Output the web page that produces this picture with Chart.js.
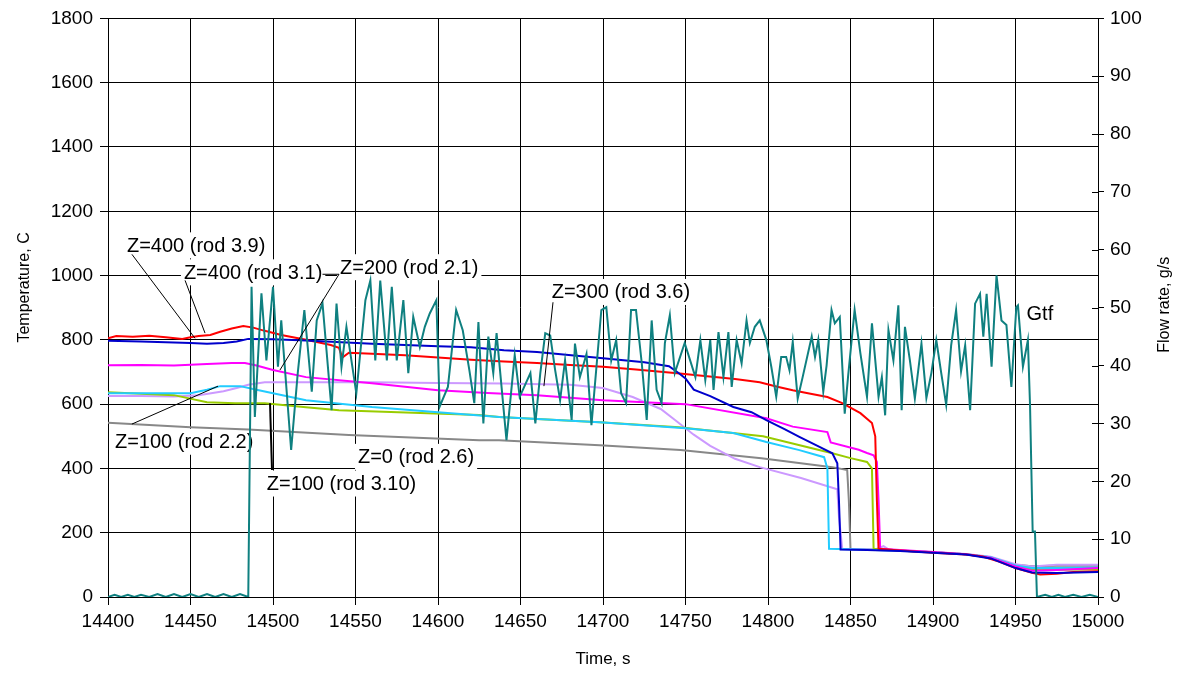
<!DOCTYPE html>
<html>
<head>
<meta charset="utf-8">
<title>Temperature and flow rate</title>
<script src="https://cdn.jsdelivr.net/npm/chart.js@4.4.1/dist/chart.umd.min.js"></script>
<style>
  html, body { margin: 0; padding: 0; background: #fff; }
  #wrap { width: 1185px; height: 675px; }
</style>
</head>
<body>
<div id="wrap"><canvas id="flowChart" width="1185" height="675"></canvas></div>
<script>
// ===== Data =====

// Z=400 (rod 3.1) - red
const timeRed = [
  14400, 14405, 14415, 14425, 14435, 14445, 14450, 14455, 14462, 14468,
  14475, 14482, 14488, 14495, 14505, 14520, 14535, 14540, 14542, 14546,
  14560, 14580, 14600, 14620, 14640, 14660, 14680, 14700, 14720, 14745,
  14760, 14780, 14795, 14805, 14815, 14825, 14836, 14845, 14856, 14863,
  14865, 14866, 14867, 14880, 14900, 14920, 14930, 14940, 14950, 14960,
  14965, 14975, 14985, 15000
];
const tempRed = [
  805, 812, 810, 813, 808, 803, 808, 812, 815, 825,
  835, 843, 838, 828, 815, 800, 784, 775, 745, 760,
  757, 752, 745, 738, 733, 728, 722, 716, 708, 696,
  688, 678, 668, 655, 643, 633, 622, 603, 572, 541,
  500, 300, 150, 145, 138, 132, 126, 110, 90, 75,
  70, 72, 78, 80
];

// Z=400 (rod 3.9) - blue
const timeBlue = [
  14400, 14420, 14440, 14450, 14460, 14470, 14478, 14485, 14500, 14520,
  14560, 14600, 14620, 14640, 14660, 14700, 14725, 14740, 14746, 14750,
  14755, 14765, 14779, 14790, 14799, 14810, 14819, 14830, 14839, 14842,
  14843, 14844, 14860, 14880, 14900, 14920, 14935, 14950, 14960, 14975,
  15000
];
const tempBlue = [
  797, 795, 792, 790, 788, 790, 795, 803, 802, 798,
  788, 780, 777, 768, 762, 743, 730, 718, 696, 680,
  645, 625, 591, 575, 550, 522, 498, 470, 447, 416,
  300, 148, 146, 143, 138, 132, 120, 90, 76, 75,
  78
];

// Z=200 (rod 2.1) - magenta
const timeMagenta = [
  14400, 14420, 14440, 14460, 14475, 14483, 14490, 14500, 14520, 14560,
  14600, 14630, 14660, 14700, 14750, 14799, 14815, 14836, 14838, 14855,
  14860, 14864, 14866, 14867, 14868, 14880, 14900, 14920, 14935, 14950,
  14960, 14975, 15000
];
const tempMagenta = [
  721, 722, 720, 725, 728, 728, 720, 706, 684, 665,
  643, 635, 628, 612, 600, 556, 530, 513, 481, 458,
  448, 441, 420, 300, 150, 146, 140, 133, 122, 95,
  82, 84, 90
];

// Z=300 (rod 3.6) - lavender
const timeLavender = [
  14400, 14420, 14440, 14455, 14470, 14478, 14485, 14495, 14520, 14560,
  14600, 14640, 14680, 14700, 14718, 14735, 14745, 14755, 14765, 14780,
  14795, 14820, 14842, 14843, 14845, 14865, 14870, 14873, 14880, 14900,
  14920, 14935, 14950, 14960, 14975, 15000
];
const tempLavender = [
  625, 625, 624, 628, 640, 650, 660, 668, 668, 668,
  666, 664, 660, 650, 622, 585, 545, 505, 470, 430,
  404, 370, 335, 250, 150, 148, 158, 148, 145, 140,
  134, 125, 102, 95, 100, 100
];

// Z=100 (rod 2.2) - cyan
const timeCyan = [
  14400, 14450, 14460, 14468, 14480, 14490, 14500, 14520, 14560, 14600,
  14637, 14698, 14750, 14779, 14799, 14819, 14834, 14836, 14837, 14860,
  14880, 14900, 14920, 14935, 14950, 14960, 14975, 15000
];
const tempCyan = [
  634, 634, 645, 656, 656, 645, 634, 612, 591, 575,
  560, 544, 525, 510, 482, 457, 435, 400, 150, 147,
  144, 139, 133, 124, 98, 90, 90, 92
];

// Z=100 (rod 3.10) - yellow-green
const timeGreen = [
  14400, 14440, 14460, 14477, 14495, 14520, 14540, 14625, 14637, 14698,
  14746, 14797, 14839, 14850, 14860, 14863, 14864, 14880, 14900, 14920,
  14935, 14950, 14960, 14975, 15000
];
const tempGreen = [
  637, 628, 606, 603, 603, 590, 581, 566, 560, 544,
  528, 500, 447, 432, 420, 400, 150, 145, 139, 133,
  122, 96, 86, 85, 86
];

// Z=0 (rod 2.6) - gray
const timeGray = [
  14400, 14450, 14485, 14546, 14625, 14637, 14698, 14747, 14796, 14839,
  14848, 14849, 14850, 14880, 14900, 14920, 14935, 14950, 14960, 14975,
  15000
];
const tempGray = [
  542, 528, 521, 504, 488, 488, 472, 457, 432, 404,
  395, 300, 150, 145, 139, 133, 124, 100, 96, 97,
  97
];

// Gtf flow rate (right axis, g/s) - teal
const timeGtf = [
  14400, 14404, 14408, 14412, 14416, 14420, 14425, 14430, 14435, 14440,
  14445, 14450, 14455, 14460, 14465, 14470, 14475, 14480, 14485, 14487,
  14489, 14493, 14496, 14500, 14503, 14505, 14511, 14515, 14519, 14523.5,
  14526.5, 14530, 14535.5, 14538.5, 14541.5, 14544.5, 14550.5, 14556, 14559, 14562,
  14565, 14569, 14572, 14575, 14579, 14582, 14585, 14589, 14592, 14595,
  14599, 14601, 14606, 14611, 14615, 14619, 14622, 14624.5, 14627.5, 14630.5,
  14633.5, 14635.5, 14641.5, 14646.5, 14649.5, 14656, 14659, 14662, 14665, 14668,
  14671, 14674, 14677, 14681, 14683, 14686, 14690, 14693, 14699, 14702,
  14705, 14708, 14711, 14714, 14717, 14720, 14723.5, 14726.5, 14729.5, 14732.5,
  14735.5, 14737.5, 14740.5, 14743.5, 14749.5, 14756, 14759, 14762, 14765, 14767,
  14770, 14773, 14776, 14778, 14781, 14784, 14787, 14789, 14792, 14795,
  14799, 14802, 14805, 14808, 14811, 14813, 14815, 14818, 14821, 14826.5,
  14828.5, 14830.5, 14833.5, 14835.5, 14838.5, 14840.5, 14843.5, 14846.5, 14848.5, 14852.5,
  14856, 14860, 14863, 14867, 14869, 14871, 14873, 14876, 14879, 14881,
  14883, 14886, 14889, 14893, 14896, 14899, 14902, 14905, 14908, 14911,
  14914, 14917, 14919.5, 14922.5, 14925.5, 14928.5, 14930.5, 14932.5, 14935.5, 14938.5,
  14941.5, 14944.5, 14947.5, 14950.5, 14951.5, 14954.5, 14957.5, 14958.8, 14960.4, 14961.8,
  14963, 14968, 14972, 14976, 14980, 14985, 14990, 14995, 15000
];
const flowGtf = [
  0, 0.4, 0, 0.4, 0, 0.4, 0, 0.5, 0, 0.5,
  0, 0.5, 0, 0.5, 0, 0.5, 0, 0.5, 0, 53.6,
  31.1, 52.5, 40.9, 53.6, 39.8, 47.8, 25.4, 38.7, 49.6, 35.5,
  47.8, 50.8, 32.3, 50.7, 39.8, 46.7, 35.2, 51.3, 54.7, 40.9,
  54.7, 40.9, 53.6, 40.9, 51.3, 38.7, 48.4, 43.2, 46.7, 49,
  51.3, 32.9, 36.3, 49.6, 46.1, 39.2, 33.5, 47.5, 30, 45,
  38.7, 45.6, 27.1, 41.8, 34.6, 38.7, 30, 38.7, 45.6, 45.2,
  39.2, 34, 40.9, 30.6, 43.8, 38, 42, 29.7, 49.6, 50.1,
  40.9, 44.4, 35.2, 33.5, 49.6, 49.6, 40.4, 30.6, 47.8, 35.8,
  33.5, 43.9, 48.7, 38.7, 43.9, 38, 44.4, 37.5, 44.4, 35.8,
  45.8, 38, 45.8, 36.3, 44.4, 40.4, 47.8, 43.9, 46.7, 47.8,
  44.4, 39.8, 34.6, 41.5, 41.5, 39.2, 44.1, 34.3, 38, 45,
  41.5, 44.5, 35.5, 40, 49.6, 47.3, 48.4, 31.7, 38, 49.6,
  42.1, 34.6, 47.3, 34.6, 38, 31.4, 46.1, 40.9, 50.4, 32.3,
  46.7, 40.9, 34.3, 43.8, 34.4, 38.7, 44.4, 38.7, 33.2, 43.5,
  49.6, 39, 43.5, 32.3, 50.7, 52.4, 45, 52.4, 39.8, 55.6,
  47.8, 47, 36.3, 50.1, 50.4, 39.8, 44.4, 33.2, 11.3, 11.3,
  0, 0.4, 0, 0.4, 0, 0.4, 0, 0.4, 0
];

// ===== Helpers =====
function toPoints(times, values) {
  return times.map(function (t, i) {
    return { x: t, y: values[i] };
  });
}

const FONT = "'Liberation Sans', Arial, sans-serif";
const tempTitle = "Temperature, C";
const flowTitle = "Flow rate, g/s";

// Callout labels (anchored in data units: time, temperature)
const callouts = [
  { text: "Z=400 (rod 3.9)", t: 14411.5, v: 1094, line: [14414.5, 1066, 14452.7, 805] },
  { text: "Z=400 (rod 3.1)", t: 14446, v: 1010, line: [14446.7, 985, 14458.8, 821] },
  { text: "Z=200 (rod 2.1)", t: 14540.6, v: 1026, line: [14540, 1004, 14504.2, 706], extra: [14530, 1004, 14540, 1004] },
  { text: "Z=300 (rod 3.6)", t: 14668.9, v: 949, line: [14669.7, 917, 14664.2, 656] },
  { text: "Gtf", t: 14956.7, v: 882 },
  { text: "Z=100 (rod 2.2)", t: 14404.2, v: 483, line: [14414.5, 538, 14466.7, 656] },
  { text: "Z=100 (rod 3.10)", t: 14496.2, v: 353, line: [14499.4, 395, 14498.2, 603], width: 2 },
  { text: "Z=0 (rod 2.6)", t: 14551.5, v: 436 }
];

function drawRotated(ctx, text, x, y) {
  ctx.save();
  ctx.translate(x, y);
  ctx.rotate(-Math.PI / 2);
  ctx.fillText(text, 0, 0);
  ctx.restore();
}

// Draw label boxes/text under the data, leader lines over it
const calloutPlugin = {
  id: "callouts",
  beforeDatasetsDraw: function (chart) {
    const ctx = chart.ctx;
    const xs = chart.scales.x;
    const ys = chart.scales.y;
    ctx.save();
    ctx.font = "20px " + FONT;
    ctx.textBaseline = "middle";
    ctx.textAlign = "left";
    callouts.forEach(function (c) {
      const px = xs.getPixelForValue(c.t);
      const py = ys.getPixelForValue(c.v);
      const w = ctx.measureText(c.text).width;
      ctx.fillStyle = "#fff";
      ctx.fillRect(px - 3, py - 13, w + 6, 26);
      ctx.fillStyle = "#000";
      ctx.fillText(c.text, px, py + 1);
    });
    ctx.restore();
  },
  afterDatasetsDraw: function (chart) {
    const ctx = chart.ctx;
    const xs = chart.scales.x;
    const ys = chart.scales.y;
    ctx.save();
    ctx.strokeStyle = "#000";
    callouts.forEach(function (c) {
      [c.line, c.extra].forEach(function (l) {
        if (!l) return;
        ctx.lineWidth = c.width || 1;
        ctx.beginPath();
        ctx.moveTo(xs.getPixelForValue(l[0]), ys.getPixelForValue(l[1]));
        ctx.lineTo(xs.getPixelForValue(l[2]), ys.getPixelForValue(l[3]));
        ctx.stroke();
      });
    });
    ctx.restore();
  },
  afterDraw: function (chart) {
    const ctx = chart.ctx;
    const y1 = chart.scales.y1;
    const area = chart.chartArea;
    ctx.save();
    // right axis tick marks cross the axis line
    ctx.strokeStyle = "#000";
    ctx.lineWidth = 1;
    y1.ticks.forEach(function (tk) {
      const py = Math.round(y1.getPixelForValue(tk.value)) + 0.5;
      ctx.beginPath();
      ctx.moveTo(area.right - 6, py);
      ctx.lineTo(area.right, py);
      ctx.stroke();
    });
    // both axis titles read bottom-to-top
    ctx.font = "16px " + FONT;
    ctx.fillStyle = "#000";
    ctx.textAlign = "center";
    ctx.textBaseline = "middle";
    drawRotated(ctx, tempTitle, 25, area.top + (area.bottom - area.top) * 0.465);
    drawRotated(ctx, flowTitle, 1165, area.top + (area.bottom - area.top) * 0.495);
    ctx.restore();
  }
};

function lineSet(label, times, values, color, axis, order) {
  return {
    label: label,
    data: toPoints(times, values),
    borderColor: color,
    backgroundColor: color,
    borderWidth: 2,
    pointRadius: 0,
    tension: 0,
    fill: false,
    yAxisID: axis,
    order: order
  };
}

function plainTick(value) {
  return String(value);
}

document.addEventListener("DOMContentLoaded", function () {
  const el = document.getElementById("flowChart");

  const config = {
    type: "line",
    data: {
      datasets: [
        lineSet("Gtf", timeGtf, flowGtf, "#0f8080", "y1", 0),
        lineSet("Z=400 (rod 3.9)", timeBlue, tempBlue, "#0000cc", "y", 1),
        lineSet("Z=400 (rod 3.1)", timeRed, tempRed, "#ff0000", "y", 2),
        lineSet("Z=200 (rod 2.1)", timeMagenta, tempMagenta, "#ff00ff", "y", 3),
        lineSet("Z=100 (rod 2.2)", timeCyan, tempCyan, "#22ccff", "y", 4),
        lineSet("Z=100 (rod 3.10)", timeGreen, tempGreen, "#99cc00", "y", 5),
        lineSet("Z=300 (rod 3.6)", timeLavender, tempLavender, "#cc99ff", "y", 6),
        lineSet("Z=0 (rod 2.6)", timeGray, tempGray, "#888888", "y", 7)
      ]
    },
    options: {
      responsive: false,
      animation: false,
      devicePixelRatio: 1,
      layout: { padding: { top: 18, left: 0, right: 0, bottom: 0 } },
      plugins: {
        legend: { display: false },
        tooltip: { enabled: false }
      },
      scales: {
        x: {
          type: "linear",
          min: 14400,
          max: 15000,
          ticks: {
            stepSize: 50,
            color: "#000",
            padding: 5,
            font: { family: FONT, size: 19 },
            callback: plainTick
          },
          grid: { color: "#000", tickLength: 8, lineWidth: 1 },
          border: { color: "#000" },
          title: {
            display: true,
            text: "Time, s",
            color: "#000",
            font: { family: FONT, size: 17 },
            padding: { top: 0, bottom: 5 }
          },
          afterFit: function (scale) { scale.height = 78; }
        },
        y: {
          position: "left",
          min: 0,
          max: 1800,
          ticks: {
            stepSize: 200,
            color: "#000",
            padding: 7,
            font: { family: FONT, size: 19 },
            callback: plainTick
          },
          grid: { color: "#000", tickLength: 8, lineWidth: 1 },
          border: { color: "#000" },
          title: { display: false },
          afterFit: function (scale) { scale.width = 108; }
        },
        y1: {
          position: "right",
          min: 0,
          max: 100,
          ticks: {
            stepSize: 10,
            color: "#000",
            padding: 6,
            font: { family: FONT, size: 19 },
            callback: plainTick
          },
          grid: { drawOnChartArea: false, color: "#000", tickLength: 6 },
          border: { color: "#000" },
          title: { display: false },
          afterFit: function (scale) { scale.width = 87; }
        }
      }
    },
    plugins: [calloutPlugin]
  };

  try {
    new Chart(el, config);
  } catch (error) {
    console.error("Error initializing chart:", error);
  }
});
</script>
</body>
</html>
